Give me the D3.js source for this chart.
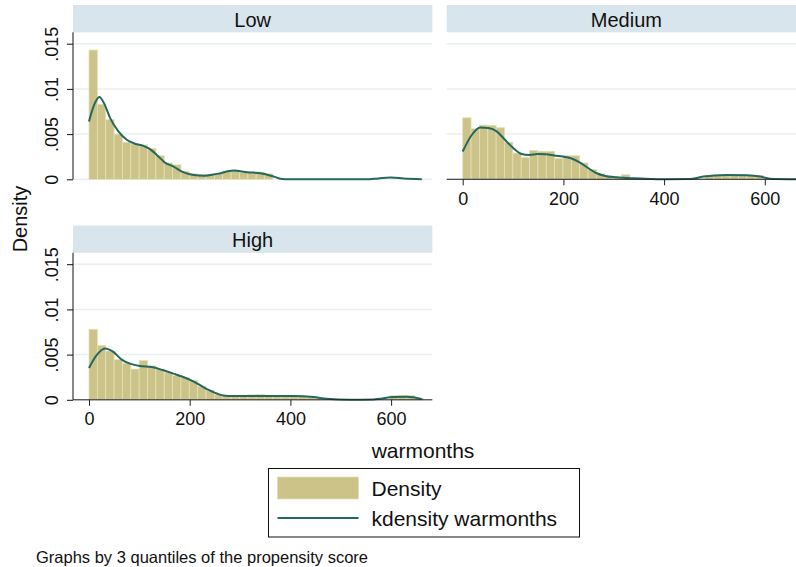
<!DOCTYPE html>
<html>
<head>
<meta charset="utf-8">
<script src="https://cdn.jsdelivr.net/npm/d3@7"></script>
<style>
  body { margin: 0; background: #fff; }
  svg { display: block; font-family: "Liberation Sans", Arial, Helvetica, sans-serif; }
</style>
</head>
<body>
<svg id="chart"></svg>
<script>
const width = 796;
const height = 567;

// panels (3 quantiles of the propensity score)
const groups = ["Low", "Medium", "High"];
const binWidth = 16.6;

// histogram heights, one per bin starting at 0
const lowBars = [0.0143, 0.0083, 0.0066, 0.0050, 0.0041, 0.0039, 0.0038, 0.0034, 0.0026, 0.0018, 0.0016,
  0.00085, 0.0006, 0.00055, 0.00055, 0.0006, 0.0009, 0.0010, 0.00075, 0.0008, 0.0008, 0.0006];
const mediumBars = [0.0068, 0.0056, 0.0060, 0.00595, 0.0057, 0.0041, 0.0029, 0.0024, 0.0032, 0.0031, 0.0031,
  0.0023, 0.0026, 0.0026, 0.0018, 0.0011, 0.0006, 0.0003, 0.0002, 0.0005, 0.0001, 0.00005,
  0, 0, 0, 0, 0, 0, 0.00005, 0.00045, 0.0005, 0.0005, 0.0005, 0.0005, 0.00045, 0.0004];
const highBars = [0.0078, 0.0060, 0.0054, 0.00445, 0.00405, 0.0034, 0.00435, 0.00375, 0.0034, 0.0030, 0.0027,
  0.00245, 0.00215, 0.0015, 0.00105, 0.00055, 0.00045, 0.00045, 0.00045, 0.00055, 0.0006, 0.0005,
  0.00045, 0.00045, 0.00045, 0.0004, 0.0003, 0.0002, 0, 0, 0, 0, 0, 0, 0, 0,
  0.00045, 0.0005, 0.00045, 0.0002];

// kdensity warmonths, [warmonths, density]
const lowCurve = [[0, 0.0064], [10, 0.0082], [20.6, 0.0091], [30, 0.0084], [41.8, 0.0068], [58.4, 0.0053],
  [75, 0.00437], [91.5, 0.00393], [108, 0.0037], [118, 0.00344], [134.6, 0.0027], [151, 0.00185],
  [168, 0.0014], [184.6, 0.00085], [208, 0.00048], [228, 0.0004], [254, 0.0006], [287.5, 0.00096],
  [314, 0.00078], [340.5, 0.00067], [367, 0.0003], [380, 0.00007], [400, 0.00001], [450, 0],
  [550, 0], [575, 0.0001], [599, 0.00019], [625, 0.0001], [661, 0.00001]];
const mediumCurve = [[0, 0.00307], [17.9, 0.0049], [34.4, 0.00574], [51, 0.00567], [67.5, 0.0053],
  [84, 0.00437], [100.7, 0.00344], [117, 0.0028], [132, 0.0027], [149, 0.0028], [165.6, 0.00278],
  [182, 0.00263], [198.7, 0.00252], [215, 0.00233], [233, 0.00185], [249.7, 0.00122], [266, 0.00067],
  [283, 0.00037], [306, 0.00022], [339, 0.00011], [372, 0.00004], [405, 0], [450, 0.00002],
  [478, 0.0003], [524.5, 0.00048], [564, 0.00044], [590.7, 0.0003], [610, 0.00007], [662, 0]];
const highCurve = [[0, 0.00352], [15.2, 0.00493], [31.8, 0.00567], [48.3, 0.0053], [65, 0.00444],
  [81.5, 0.004], [101, 0.00374], [124.5, 0.00363], [147.7, 0.00326], [167.5, 0.0029], [187.4, 0.00252],
  [207, 0.00204], [227, 0.0014], [247, 0.00085], [267, 0.00048], [287, 0.00041], [353, 0.00041],
  [406, 0.00041], [446, 0.0003], [472, 0.00011], [518, 0], [565, 0.00004], [605, 0.0003],
  [631, 0.00033], [661, 0.00007]];

const xTicks = [0, 200, 400, 600];
const yTicks = [0, 0.005, 0.01, 0.015];
const yTickLabels = ["0", ".005", ".01", ".015"];

const barColor = "#cbc387";
const barEdge = "#e4dfb8";
const lineColor = "#24685f";
const stripColor = "#d9e5ec";
const gridColor = "#e8f0f2";
const ink = "#111";

const svg = d3.select("#chart")
  .attr("width", width)
  .attr("height", height);

// one facet = strip + plot region
const panelW = 359.3;
const stripH = 27.3;
const plotH = 147;

const xScale = d3.scaleLinear().domain([0, 600]).range([16, 318.1]);
const yScale = d3.scaleLinear().domain([0, 0.015]).range([plotH, plotH - 135.6]);

const panels = [
  { name: groups[0], bars: lowBars, curve: lowCurve, left: 73, top: 5, yAxis: true, xAxis: false },
  { name: groups[1], bars: mediumBars, curve: mediumCurve, left: 446.7, top: 5, yAxis: false, xAxis: true },
  { name: groups[2], bars: highBars, curve: highCurve, left: 73, top: 225.5, yAxis: true, xAxis: true }
];

const line = d3.line()
  .x(d => xScale(d[0]))
  .y(d => yScale(d[1]))
  .curve(d3.curveMonotoneX);

panels.forEach(p => {
  const g = svg.append("g").attr("transform", `translate(${p.left}, ${p.top})`);

  // strip
  g.append("rect")
    .attr("width", panelW).attr("height", stripH)
    .attr("fill", stripColor);
  g.append("text")
    .attr("x", panelW / 2).attr("y", stripH / 2 + 1)
    .attr("text-anchor", "middle").attr("dominant-baseline", "central")
    .attr("font-size", 20).attr("fill", ink)
    .text(p.name);

  const plot = g.append("g").attr("transform", `translate(0, ${stripH})`);

  // gridlines
  plot.selectAll(".grid")
    .data(yTicks)
    .enter()
    .append("line")
    .attr("x1", 0).attr("x2", panelW)
    .attr("y1", d => yScale(d)).attr("y2", d => yScale(d))
    .attr("stroke", gridColor).attr("stroke-width", 1.5);

  // bars
  plot.selectAll(".bar")
    .data(p.bars)
    .enter()
    .append("rect")
    .attr("class", "bar")
    .attr("x", (d, i) => xScale(i * binWidth))
    .attr("width", xScale(binWidth) - xScale(0))
    .attr("y", d => yScale(d))
    .attr("height", d => plotH - yScale(d))
    .attr("fill", barColor)
    .attr("stroke", d => d > 0 ? barEdge : "none")
    .attr("stroke-width", 0.8);

  // kdensity
  plot.append("path")
    .datum(p.curve)
    .attr("d", line)
    .attr("fill", "none")
    .attr("stroke", lineColor)
    .attr("stroke-width", 2);

  if (p.yAxis) {
    const ya = plot.append("g")
      .call(d3.axisLeft(yScale).tickValues(yTicks).tickSize(6).tickFormat((d, i) => yTickLabels[i]));
    ya.select(".domain").attr("d", `M0,0V${plotH}`).attr("stroke", ink);
    ya.selectAll(".tick line").attr("stroke", ink);
    ya.selectAll(".tick text")
      .attr("font-size", 18).attr("fill", ink)
      .attr("font-family", null)
      .attr("x", null).attr("dy", null)
      .attr("text-anchor", "middle")
      .attr("dominant-baseline", "central")
      .attr("transform", "translate(-21, 0) rotate(-90)");
  }

  if (p.xAxis) {
    const xa = plot.append("g")
      .attr("transform", `translate(0, ${plotH})`)
      .call(d3.axisBottom(xScale).tickValues(xTicks).tickSize(6).tickFormat(d3.format("d")));
    xa.select(".domain").attr("d", `M0,0H${panelW}`).attr("stroke", "#222");
    xa.selectAll(".tick line").attr("stroke", "#222");
    xa.selectAll(".tick text")
      .attr("font-size", 18).attr("fill", ink)
      .attr("font-family", null)
      .attr("dy", null).attr("y", 19.5)
      .attr("dominant-baseline", "central");
  }
});

// axis titles
svg.append("text")
  .attr("transform", "translate(20, 219) rotate(-90)")
  .attr("text-anchor", "middle").attr("dominant-baseline", "central")
  .attr("font-size", 20).attr("fill", ink)
  .text("Density");

svg.append("text")
  .attr("x", 423).attr("y", 450)
  .attr("text-anchor", "middle").attr("dominant-baseline", "central")
  .attr("font-size", 21).attr("fill", ink)
  .text("warmonths");

// legend
const legend = svg.append("g").attr("transform", "translate(268.5, 468.5)");
legend.append("rect")
  .attr("width", 311).attr("height", 68.5)
  .attr("fill", "#fff").attr("stroke", ink).attr("stroke-width", 1);
legend.append("rect")
  .attr("x", 9).attr("y", 8.5).attr("width", 81).attr("height", 22)
  .attr("fill", barColor).attr("stroke", barEdge).attr("stroke-width", 0.8);
legend.append("line")
  .attr("x1", 9).attr("x2", 90).attr("y1", 49.5).attr("y2", 49.5)
  .attr("stroke", lineColor).attr("stroke-width", 2);
legend.append("text")
  .attr("x", 103).attr("y", 20)
  .attr("dominant-baseline", "central")
  .attr("font-size", 21).attr("fill", ink)
  .text("Density");
legend.append("text")
  .attr("x", 103).attr("y", 49.5)
  .attr("dominant-baseline", "central")
  .attr("font-size", 21).attr("fill", ink)
  .text("kdensity warmonths");

// note
svg.append("text")
  .attr("x", 36).attr("y", 557)
  .attr("dominant-baseline", "central")
  .attr("font-size", 16.5).attr("fill", ink)
  .text("Graphs by 3 quantiles of the propensity score");
</script>
</body>
</html>
